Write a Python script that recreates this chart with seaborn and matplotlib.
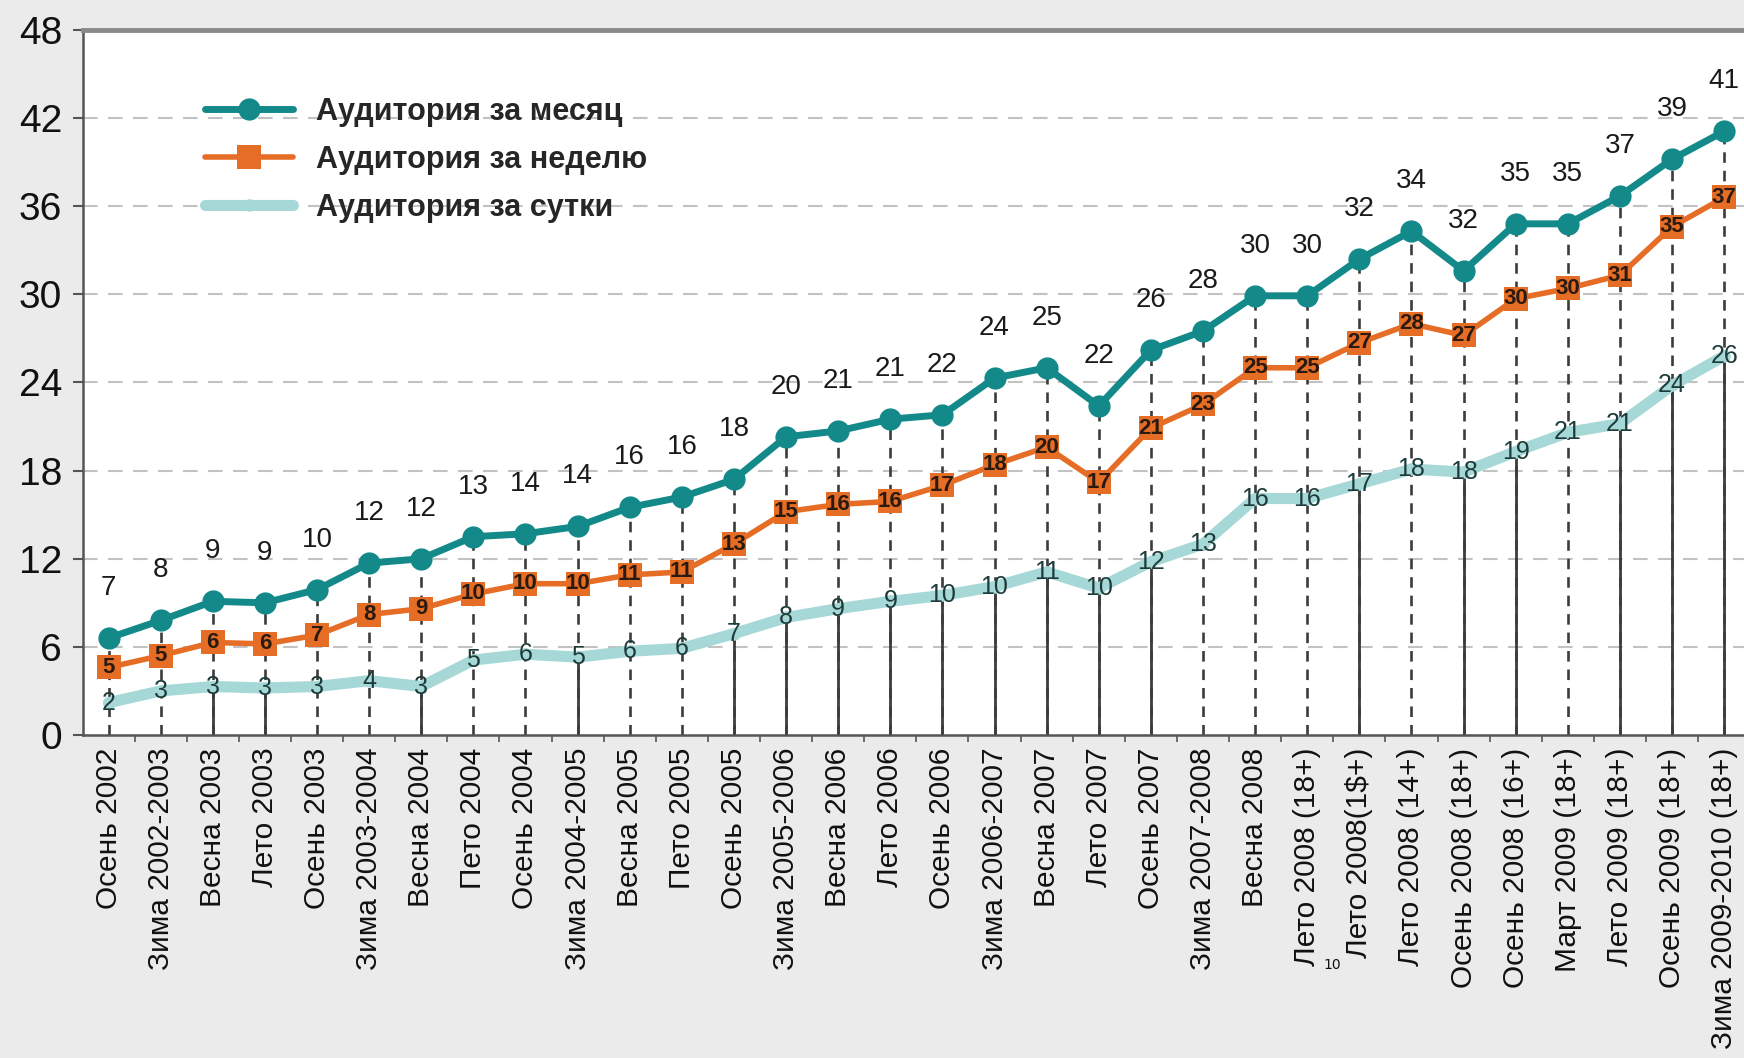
import matplotlib
matplotlib.use("Agg")
import matplotlib.pyplot as plt
import seaborn as sns
import pandas as pd
import numpy as np

periods = [
    "Осень 2002", "Зима 2002-2003", "Весна 2003", "Лето 2003", "Осень 2003",
    "Зима 2003-2004", "Весна 2004", "Пето 2004", "Осень 2004", "Зима 2004-2005",
    "Весна 2005", "Пето 2005", "Осень 2005", "Зима 2005-2006", "Весна 2006",
    "Лето 2006", "Осень 2006", "Зима 2006-2007", "Весна 2007", "Лето 2007",
    "Осень 2007", "Зима 2007-2008", "Весна 2008", "Лето 2008 (18+)",
    "Лето 2008(1$+)", "Лето 2008 (14+)", "Осень 2008 (18+)", "Осень 2008 (16+)",
    "Март 2009 (18+)", "Лето 2009 (18+)", "Осень 2009 (18+)", "Зима 2009-2010 (18+)",
]

# plotted positions and the printed labels
month_vals = [6.6, 7.8, 9.1, 9.0, 9.9, 11.7, 12.0, 13.5, 13.7, 14.2, 15.5, 16.2,
              17.4, 20.3, 20.7, 21.5, 21.8, 24.3, 25.0, 22.4, 26.2, 27.5, 29.9, 29.9,
              32.4, 34.3, 31.6, 34.8, 34.8, 36.7, 39.2, 41.1]
week_vals = [4.6, 5.4, 6.3, 6.2, 6.8, 8.2, 8.6, 9.6, 10.3, 10.3, 10.9, 11.1,
             13.0, 15.2, 15.7, 15.9, 17.0, 18.4, 19.6, 17.2, 20.9, 22.5, 25.0, 25.0,
             26.7, 28.0, 27.2, 29.7, 30.4, 31.3, 34.6, 36.6]
day_vals = [2.2, 3.0, 3.3, 3.2, 3.3, 3.7, 3.3, 5.1, 5.5, 5.3, 5.7, 5.9,
            6.9, 8.0, 8.6, 9.1, 9.5, 10.1, 11.1, 10.0, 11.8, 13.0, 16.1, 16.1,
            17.1, 18.1, 17.9, 19.3, 20.6, 21.2, 23.8, 25.8]

month_labels = [7, 8, 9, 9, 10, 12, 12, 13, 14, 14, 16, 16, 18, 20, 21, 21, 22, 24,
                25, 22, 26, 28, 30, 30, 32, 34, 32, 35, 35, 37, 39, 41]
week_labels = [5, 5, 6, 6, 7, 8, 9, 10, 10, 10, 11, 11, 13, 15, 16, 16, 17, 18,
               20, 17, 21, 23, 25, 25, 27, 28, 27, 30, 30, 31, 35, 37]
day_labels = [2, 3, 3, 3, 3, 4, 3, 5, 6, 5, 6, 6, 7, 8, 9, 9, 10, 10, 11, 10, 12,
              13, 16, 16, 17, 18, 18, 19, 21, 21, 24, 26]

series_names = ["Аудитория за месяц", "Аудитория за неделю", "Аудитория за сутки"]
y_ticks = [0, 6, 12, 18, 24, 30, 36, 42, 48]

# which drop lines are solid below the daily series
solid_drop = [False, False, True, True, False, False, True, False, False, True,
              False, False, True, True, True, True, True, True, True, True,
              True, False, False, False, True, False, True, True, False, True,
              True, True]

TEAL = "#13898a"
ORANGE = "#e56d25"
LIGHT = "#a5d8d6"
BG = "#ebebeb"
SANS = ["Liberation Sans", "DejaVu Sans"]

sns.set_theme(style="white")
plt.rcParams["font.family"] = ["DejaVu Sans"]

x = np.arange(len(periods))
df = pd.DataFrame({"x": x, "month": month_vals, "week": week_vals, "day": day_vals})

fig = plt.figure(figsize=(17.44, 10.58), dpi=100, facecolor=BG)
ax = fig.add_axes([0.0476, 0.3053, 0.9524, 0.6664])
ax.set_facecolor("white")

# horizontal dashed grid
for yv in y_ticks[1:-1]:
    ax.axhline(yv, color="#c2c2c2", lw=1.5, ls=(0, (7, 5)), zorder=0)

# drop lines
dash = (0, (4, 3))
ax.vlines(x, 0, df["month"], colors="#3c3c3c", lw=1.9, linestyles=[dash], zorder=1)
mask = np.array(solid_drop)
ax.vlines(x[mask], 0, df["day"].values[mask], colors="#3c3c3c",
          lw=2.0, linestyles="solid", zorder=1)

sns.lineplot(data=df, x="x", y="day", ax=ax, color=LIGHT, lw=8, marker="o",
             markersize=9, markeredgewidth=0, label=series_names[2], zorder=2)
sns.lineplot(data=df, x="x", y="week", ax=ax, color=ORANGE, lw=4, marker="s",
             markersize=17, markeredgewidth=0, label=series_names[1], zorder=3)
sns.lineplot(data=df, x="x", y="month", ax=ax, color=TEAL, lw=5, marker="o",
             markersize=16, markeredgewidth=0, label=series_names[0], zorder=4)

for xi, v, lab in zip(x, month_vals, month_labels):
    ax.annotate(str(lab), (xi, v), xytext=(0, 36), textcoords="offset points",
                ha="center", va="center", fontsize=20, color="#1a1a1a",
                family=SANS, zorder=6)
for xi, v, lab in zip(x, week_vals, week_labels):
    ax.annotate(str(lab), (xi, v), ha="center", va="center", fontsize=16,
                color="#2a1a10", family=SANS, fontweight="bold", zorder=6)
for xi, v, lab in zip(x, day_vals, day_labels):
    ax.annotate(str(lab), (xi, v), ha="center", va="center", fontsize=18,
                color="#1d3b3b", family=SANS, zorder=6)

ax.set_xlim(-0.49, len(periods) - 0.62)
ax.set_ylim(0, 48)
ax.set_xlabel("")
ax.set_ylabel("")

ax.set_xticks(x)
ax.set_xticklabels(periods, rotation=90, fontsize=21.5, family=SANS,
                   color="#111111")
ax.set_xticks(x[:-1] + 0.5, minor=True)
ax.tick_params(axis="x", which="major", length=0, pad=9)
ax.tick_params(axis="x", which="minor", bottom=True, direction="out", length=5,
               width=1.2, color="#555555")
ax.set_yticks(y_ticks)
ax.set_yticklabels([str(t) for t in y_ticks], fontsize=28, family=SANS,
                   color="#111111")
ax.tick_params(axis="y", left=True, direction="out", length=7, width=1.5,
               color="#555555", pad=8)

ax.spines["right"].set_visible(False)
ax.spines["top"].set_color("#8a8a8a")
ax.spines["top"].set_linewidth(3.5)
ax.spines["left"].set_color("#555555")
ax.spines["left"].set_linewidth(1.8)
ax.spines["bottom"].set_color("#555555")
ax.spines["bottom"].set_linewidth(1.8)

handles, labels = ax.get_legend_handles_labels()
order = [labels.index(n) for n in series_names]
leg = ax.legend([handles[i] for i in order], [labels[i] for i in order],
                loc="upper left", bbox_to_anchor=(0.066, 0.922), frameon=False,
                handlelength=2.9, labelspacing=0.58, handletextpad=0.75,
                borderaxespad=0,
                prop={"family": SANS, "size": 22, "weight": "bold"})

fig.text(1332 / 1744, 1 - 965 / 1058, "10", fontsize=10, ha="center", va="center",
         color="#111111")

fig.savefig("out.png", dpi=100, facecolor=BG)
